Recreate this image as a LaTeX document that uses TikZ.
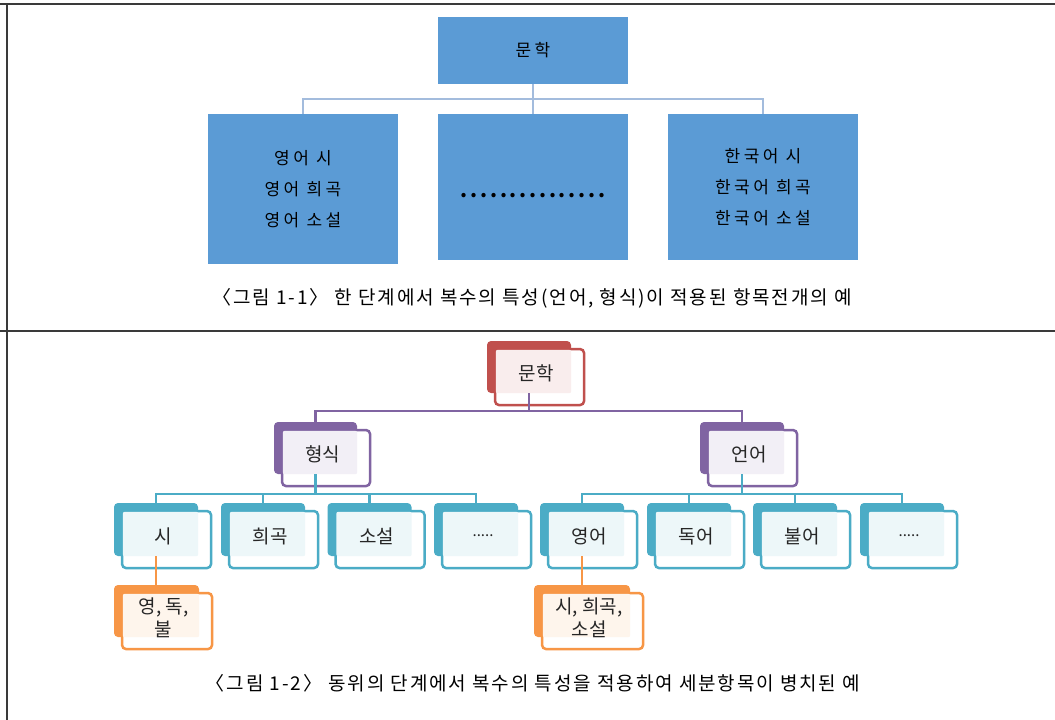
\documentclass[tikz,border=0pt]{standalone}
\usepackage{fontspec}
\setmainfont{Noto Sans CJK KR}
\usetikzlibrary{calc}

\definecolor{topblue}{HTML}{5B9BD5}
\definecolor{linkblue}{HTML}{A3BCDD}
\definecolor{litred}{HTML}{C0504D}
\definecolor{kindpurple}{HTML}{8064A2}
\definecolor{subteal}{HTML}{4BACC6}
\definecolor{leaforange}{HTML}{F79646}
\definecolor{framegray}{HTML}{3A3A3A}

\tikzset{
	flatbox/.style={fill=topblue, inner sep=0pt, font=\fontsize{17}{31}\selectfont\addfontfeature{LetterSpace=20}, align=center},
	backbox/.style={rounded corners=4, inner sep=0pt},
	frontbox/.style={rounded corners=4, fill=white, line width=2.5, inner sep=0pt},
	boxtext/.style={align=center, text=black!85, font=\fontsize{19}{23}\selectfont},
	captext/.style={font=\fontsize{19}{19}\selectfont\addfontfeature{LetterSpace=10}},
	toplink/.style={draw=linkblue, line width=2},
	kindlink/.style={draw=kindpurple, line width=2.5},
	sublink/.style={draw=subteal, line width=2.5},
	leaflink/.style={draw=leaforange, line width=2.5},
}

% back plate, white front plate, tinted overlap, text
\newcommand{\layerbox}[7]{%
	\node[backbox, fill=#6, minimum width=#4, minimum height=#5] (#1) at (#2,#3) {};
	\node[frontbox, draw=#6, minimum width=#4+5, minimum height=#5+4, anchor=north west] (#1-f) at ([shift={(7,7)}]#1.north west) {};
	\fill[#6!10, rounded corners=2] ([shift={(2,2)}]#1-f.north west) rectangle (#1.south east);
	\node[boxtext] (#1-t) at ($(#1.north west)!0.5!(#1-f.south east)$) {#7};
}

\begin{document}
\begin{tikzpicture}[x=1pt, y=-1pt]
	\useasboundingbox (0,0) rectangle (1055,720);
	\fill[white] (0,0) rectangle (1055,720);

	% frame
	\draw[framegray, line width=2] (0,4) -- (1055,4);
	\draw[framegray, line width=2] (0,330.5) -- (1055,330.5);
	\draw[framegray, line width=2] (7,4) -- (7,720);

	% figure 1-1
	\node[flatbox, minimum width=190, minimum height=67] (lit) at (533,50.5) {문학};
	\node[flatbox, minimum width=190, minimum height=150] (eng) at (303,189) {영어 시\\영어 희곡\\영어 소설};
	\node[flatbox, minimum width=190, minimum height=146] (mid) at (533,187) {};
	\node[flatbox, minimum width=190, minimum height=146] (kor) at (763,187) {한국어 시\\한국어 희곡\\한국어 소설};
	\node[font=\bfseries\fontsize{20}{20}\selectfont\addfontfeature{LetterSpace=14}] (dots) at (533,196) {...............};
	\draw[toplink] (lit.south) -- ++(0,15) -| (eng.north);
	\draw[toplink] (lit.south) -- ++(0,15) -| (kor.north);
	\draw[toplink] (lit.south) -- (mid.north);
	\node[captext] (cap1) at (532,298) {〈그림 1-1〉 한 단계에서 복수의 특성(언어, 형식)이 적용된 항목전개의 예};

	% figure 1-2
	\layerbox{root}{529}{367}{84}{52}{litred}{문학}
	\layerbox{form}{315.5}{448}{83}{52}{kindpurple}{형식}
	\layerbox{lang}{742}{448}{84}{52}{kindpurple}{언어}
	\layerbox{poem}{156}{529.5}{84}{53}{subteal}{시}
	\layerbox{drama}{263}{529.5}{84}{53}{subteal}{희곡}
	\layerbox{novel}{369.5}{529.5}{84}{53}{subteal}{소설}
	\layerbox{formmore}{476}{529.5}{84}{53}{subteal}{\fontsize{15}{15}\selectfont .....}
	\layerbox{english}{582}{529.5}{84}{53}{subteal}{영어}
	\layerbox{german}{689}{529.5}{84}{53}{subteal}{독어}
	\layerbox{french}{795}{529.5}{84}{53}{subteal}{불어}
	\layerbox{langmore}{902}{529.5}{84}{53}{subteal}{\fontsize{15}{15}\selectfont .....}
	\layerbox{poemleaf}{156.5}{611}{85}{52}{leaforange}{영, 독,\\불}
	\layerbox{englishleaf}{582}{611}{96}{52}{leaforange}{시, 희곡,\\소설}

	\draw[kindlink] (root.south) -- ++(0,18) -| (form.north);
	\draw[kindlink] (root.south) -- ++(0,18) -| (lang.north);
	\foreach \sub in {poem, drama, novel, formmore}
		\draw[sublink] (form.south) -- ++(0,20) -| (\sub.north);
	\foreach \sub in {english, german, french, langmore}
		\draw[sublink] (lang.south) -- ++(0,20) -| (\sub.north);
	\draw[leaflink] (poem.south) -- (poem.south |- poemleaf.north);
	\draw[leaflink] (english.south) -- (english.south |- englishleaf.north);

	\node[captext] (cap2) at (533,683) {〈그림 1-2〉 동위의 단계에서 복수의 특성을 적용하여 세분항목이 병치된 예};
\end{tikzpicture}
\end{document}
